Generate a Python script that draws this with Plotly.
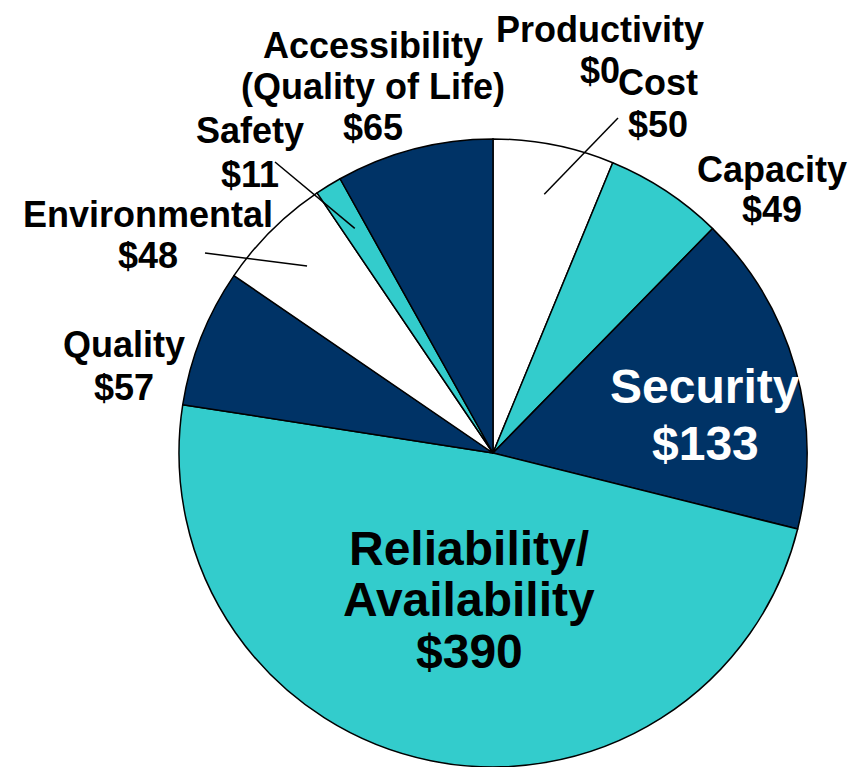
import math
import plotly.graph_objects as go

# ---- data ----
categories = ["Productivity", "Cost", "Capacity", "Security", "Reliability/Availability",
              "Quality", "Environmental", "Safety", "Accessibility (Quality of Life)"]
values = [0, 50, 49, 133, 390, 57, 48, 11, 65]
name_lines = [["Productivity"], ["Cost"], ["Capacity"], ["Security"], ["Reliability/", "Availability"],
              ["Quality"], ["Environmental"], ["Safety"], ["Accessibility", "(Quality of Life)"]]
slice_colors = ["#003366", "#FFFFFF", "#33CCCC", "#003366", "#33CCCC",
                "#003366", "#FFFFFF", "#33CCCC", "#003366"]

# ---- layout constants (pixels, page coordinates) ----
W, H = 861, 767
OFF = 8  # default page body margin
CX, CY, R = 493, 453, 314
FONT = "Liberation Sans, Arial, sans-serif"

# label placement: center x, first baseline y, line step, font size, color
label_pos = {
    "Productivity": (600, 41.5, 41, 36, "black"),
    "Cost": (658, 95, 42, 36, "black"),
    "Capacity": (772, 181.7, 40, 36, "black"),
    "Security": (705, 403.3, 56.7, 48, "white"),
    "Reliability/Availability": (469, 565, 51.5, 48, "black"),
    "Quality": (124, 356.7, 43.3, 36, "black"),
    "Environmental": (148, 226.7, 41.3, 36, "black"),
    "Safety": (250, 143, 43.7, 36, "black"),
    "Accessibility (Quality of Life)": (373, 58.3, 40.8, 36, "black"),
}
# leader lines: slice -> outer end (pixels)
leaders = {"Cost": (618, 118), "Safety": (275, 162), "Environmental": (205, 253)}
LEADER_FRAC = 0.84


def px(x):
    return (x - OFF) / W


def py(y):
    return 1 - (y - OFF) / H


fig = go.Figure(go.Pie(
    labels=categories,
    values=values,
    sort=False,
    direction="clockwise",
    rotation=0,
    marker=dict(colors=slice_colors, line=dict(color="black", width=1.5)),
    textinfo="none",
    hoverinfo="label+value",
    domain=dict(x=[px(CX - R), px(CX + R)], y=[py(CY + R), py(CY - R)]),
    showlegend=False,
))

annotations = []
for cat, v, lines in zip(categories, values, name_lines):
    x0, b0, step, size, col = label_pos[cat]
    all_lines = lines + [f"${v}"]
    for i, t in enumerate(all_lines):
        base = b0 + i * step
        annotations.append(dict(
            x=px(x0), y=py(base - 0.3465 * size), xref="paper", yref="paper",
            text=f"<b>{t}</b>", showarrow=False, xanchor="center", yanchor="middle",
            font=dict(family=FONT, size=size, color=col),
        ))

# leader lines computed from slice mid-angles
total = sum(values)
shapes = []
cum = 0
for cat, v in zip(categories, values):
    mid = (cum + v / 2) / total * 2 * math.pi
    cum += v
    if cat in leaders:
        ix = CX + LEADER_FRAC * R * math.sin(mid)
        iy = CY - LEADER_FRAC * R * math.cos(mid)
        ox, oy = leaders[cat]
        shapes.append(dict(type="line", xref="paper", yref="paper",
                           x0=px(ix), y0=py(iy), x1=px(ox), y1=py(oy),
                           line=dict(color="black", width=1.5)))

fig.update_layout(
    width=W, height=H,
    margin=dict(l=0, r=0, t=0, b=0),
    paper_bgcolor="white",
    plot_bgcolor="white",
    annotations=annotations,
    shapes=shapes,
)

fig.write_html("out.html")
